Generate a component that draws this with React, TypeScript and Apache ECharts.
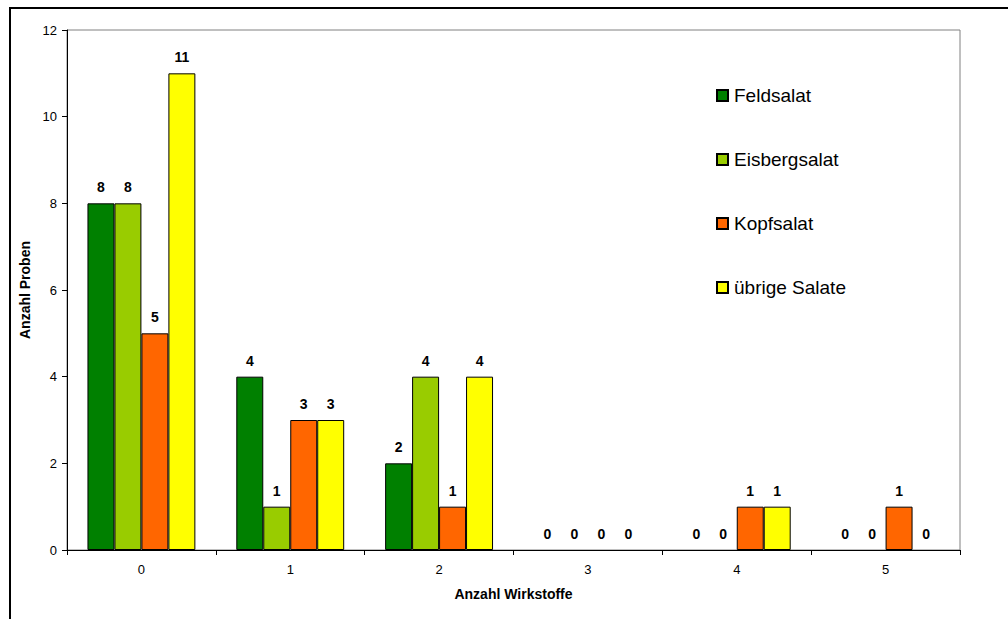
import React, { useEffect, useRef } from "react";
import * as echarts from "echarts";

const categories = ["0", "1", "2", "3", "4", "5"];
const seriesNames = ["Feldsalat", "Eisbergsalat", "Kopfsalat", "übrige Salate"];
const feldsalat = [8, 4, 2, 0, 0, 0];
const eisbergsalat = [8, 1, 4, 0, 0, 0];
const kopfsalat = [5, 3, 1, 0, 1, 1];
const uebrigeSalate = [11, 3, 4, 0, 1, 0];
const colors = ["#008000", "#99CC00", "#FF6600", "#FFFF00"];

const FONT = "'Liberation Sans', Arial, sans-serif";

export default function App() {
  const ref = useRef<HTMLDivElement>(null);

  useEffect(() => {
    if (!ref.current) return;
    const chart = echarts.init(ref.current, undefined, { renderer: "svg" });
    const values = [feldsalat, eisbergsalat, kopfsalat, uebrigeSalate];
    chart.setOption({
      animation: false,
      backgroundColor: "#ffffff",
      textStyle: { fontFamily: FONT },
      graphic: [
        {
          type: "rect",
          shape: { x: 10, y: 8, width: 1200, height: 800 },
          style: { fill: "none", stroke: "#000", lineWidth: 2 },
          silent: true,
          z: 100,
        },
      ],
      grid: {
        left: 67,
        top: 30,
        right: 48,
        bottom: 69,
        show: true,
        borderColor: "#808080",
        borderWidth: 1,
      },
      legend: {
        orient: "vertical",
        left: 716,
        top: 86,
        padding: 0,
        itemGap: 45,
        itemWidth: 11,
        itemHeight: 11,
        icon: "rect",
        textStyle: { fontFamily: FONT, fontSize: 19, color: "#000", padding: [0, 0, 0, 1] },
        data: seriesNames,
      },
      xAxis: {
        type: "category",
        data: categories,
        name: "Anzahl Wirkstoffe",
        nameLocation: "middle",
        nameGap: 37,
        nameTextStyle: { fontFamily: FONT, fontSize: 14, fontWeight: "bold", color: "#000" },
        axisLine: { lineStyle: { color: "#000", width: 1 } },
        axisTick: { show: true, alignWithLabel: false, length: 5, lineStyle: { color: "#000" } },
        axisLabel: { fontFamily: FONT, fontSize: 13, color: "#000", margin: 13 },
        splitLine: { show: false },
      },
      yAxis: {
        type: "value",
        min: 0,
        max: 12,
        interval: 2,
        name: "Anzahl Proben",
        nameLocation: "middle",
        nameGap: 35,
        nameTextStyle: { fontFamily: FONT, fontSize: 14, fontWeight: "bold", color: "#000" },
        axisLine: { show: true, lineStyle: { color: "#000", width: 1 } },
        axisTick: { show: true, length: 5, lineStyle: { color: "#000" } },
        axisLabel: { fontFamily: FONT, fontSize: 13, color: "#000", margin: 10 },
        splitLine: { show: false },
      },
      series: seriesNames.map((name, i) => ({
        name,
        type: "bar",
        // zero-height bars get no outline
        data: values[i].map((v) =>
          v === 0 ? { value: v, itemStyle: { borderWidth: 0 } } : v
        ),
        barGap: "0%",
        barCategoryGap: "27.5%",
        itemStyle: { color: colors[i], borderColor: "#000", borderWidth: 1 },
        label: {
          show: true,
          position: "top",
          distance: 9,
          fontFamily: FONT,
          fontSize: 14,
          fontWeight: "bold",
          color: "#000",
        },
      })),
    });
    return () => chart.dispose();
  }, []);

  return (
    <div
      ref={ref}
      style={{ position: "fixed", left: 0, top: 0, width: 1008, height: 619 }}
    />
  );
}
